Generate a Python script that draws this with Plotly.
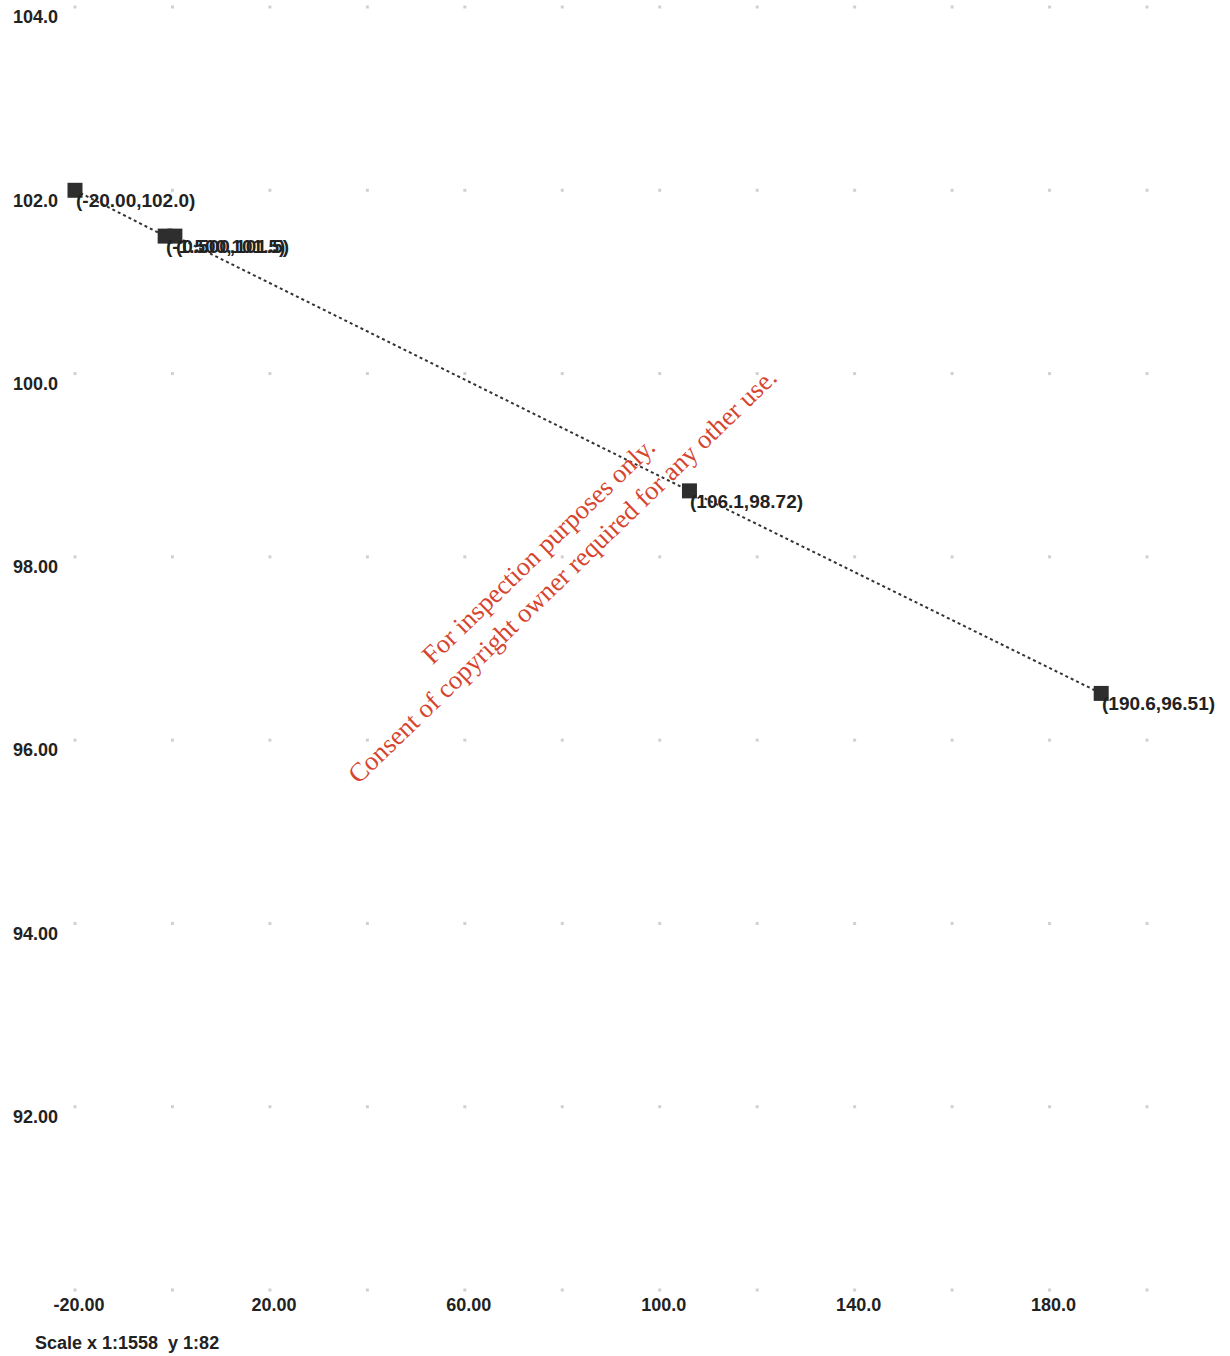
import plotly.graph_objects as go

# Survey profile points (chainage, level)
chainage = [-20.0, -1.5, 0.5, 106.1, 190.6]
level = [102.0, 101.5, 101.5, 98.72, 96.51]

x_ticks = [-20, 20, 60, 100, 140, 180]
x_tick_text = ["-20.00", "20.00", "60.00", "100.0", "140.0", "180.0"]
y_ticks = [92, 94, 96, 98, 100, 102, 104]
y_tick_text = ["92.00", "94.00", "96.00", "98.00", "100.0", "102.0", "104.0"]

grid_x = list(range(-20, 201, 20))
grid_y = list(range(90, 105, 2))

X_RANGE = [-20, 200]
Y_RANGE = [90, 104]

FONT = "Liberation Sans, Arial, sans-serif"


def fmt4(v):
    # four significant digits, like the instrument printout
    whole = len(str(int(abs(v)))) if abs(v) >= 1 else 1
    return f"{v:.{max(0, 4 - whole)}f}"


labels = [f"({fmt4(x)},{fmt4(y)})" for x, y in zip(chainage, level)]

fig = go.Figure()

# faint grid marks at the grid intersections
gx, gy = [], []
for xv in grid_x:
    for yv in grid_y:
        gx.append(xv)
        gy.append(yv)
fig.add_trace(go.Scatter(
    x=gx, y=gy, mode="markers",
    marker=dict(size=3, color="#d0d0d0", symbol="square"),
    hoverinfo="skip", showlegend=False, cliponaxis=False,
))

# profile line with station markers
fig.add_trace(go.Scatter(
    x=chainage, y=level,
    mode="lines+markers",
    line=dict(color="#333333", width=2, dash="dot"),
    marker=dict(symbol="square", size=15, color="#2e2e2e"),
    showlegend=False, cliponaxis=False,
))

# station coordinate labels, hanging just below-right of each station
station_labels = [
    dict(
        x=x, y=y, xref="x", yref="y", text=t,
        xanchor="left", yanchor="top", xshift=-1, yshift=2,
        showarrow=False,
        font=dict(family=FONT, size=19, color="#222222", weight="bold"),
    )
    for x, y, t in zip(chainage, level, labels)
]

fig.update_layout(
    width=1230, height=1356,
    margin=dict(l=75, r=83, t=7, b=66),
    paper_bgcolor="white", plot_bgcolor="white",
    font=dict(family=FONT, size=18, color="#222222"),
    xaxis=dict(
        range=X_RANGE, showgrid=False, zeroline=False, showline=False,
        tickvals=x_ticks, ticktext=x_tick_text, ticks="",
        ticklabelshift=4, ticklabelstandoff=2,
        tickfont=dict(family=FONT, size=18, color="#222222", weight="bold"),
    ),
    yaxis=dict(
        range=Y_RANGE, showgrid=False, zeroline=False, showline=False,
        tickvals=y_ticks, ticktext=y_tick_text, ticks="",
        ticklabelshift=10, ticklabelstandoff=16,
        tickfont=dict(family=FONT, size=18, color="#222222", weight="bold"),
    ),
    annotations=station_labels + [
        dict(
            text="Scale x 1:1558  y 1:82", xref="paper", yref="paper",
            x=-0.0393, y=-0.041, xanchor="left", yanchor="middle",
            showarrow=False,
            font=dict(family=FONT, size=18, color="#222222", weight="bold"),
        ),
        dict(
            text="For inspection purposes only.<br>Consent of copyright owner required for any other use.",
            xref="paper", yref="paper", x=0.443, y=0.567,
            xanchor="center", yanchor="middle", showarrow=False,
            textangle=-44,
            font=dict(family="Liberation Serif, Times New Roman, serif", size=26.5,
                      color="#d6452f", weight="normal"),
        ),
    ],
)

fig.write_html("out.html")
